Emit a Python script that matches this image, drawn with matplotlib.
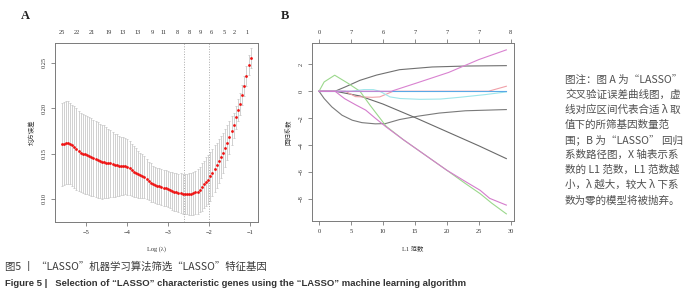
import matplotlib
matplotlib.use('Agg')
import matplotlib.pyplot as plt
import numpy as np

plt.rcParams['font.family'] = ['Liberation Serif', 'Noto Sans CJK SC']

# ---- panel A: cross-validation curve ----
n_lambda = 90
loglam = np.linspace(-5.6, -0.978, n_lambda)
cv_mse = [0.160, 0.161, 0.162, 0.162, 0.161, 0.159, 0.157, 0.155, 0.153, 0.151,
          0.150, 0.149, 0.148, 0.147, 0.146, 0.145, 0.144, 0.143, 0.142, 0.141,
          0.141, 0.140, 0.139, 0.139, 0.138, 0.137, 0.137, 0.136, 0.136, 0.136,
          0.136, 0.135, 0.134, 0.132, 0.130, 0.129, 0.127, 0.126, 0.125, 0.124,
          0.122, 0.120, 0.118, 0.116, 0.115, 0.114, 0.114, 0.113, 0.112, 0.112,
          0.111, 0.110, 0.109, 0.108, 0.107, 0.106, 0.106, 0.105, 0.105, 0.105,
          0.105, 0.105, 0.106, 0.107, 0.108, 0.110, 0.113, 0.116, 0.119, 0.121,
          0.125, 0.129, 0.133, 0.137, 0.142, 0.146, 0.151, 0.156, 0.162, 0.168,
          0.175, 0.181, 0.190, 0.198, 0.205, 0.215, 0.225, 0.236, 0.248, 0.255]
cv_sd = [0.046, 0.046, 0.046, 0.046, 0.045, 0.045, 0.045, 0.045, 0.044, 0.044,
         0.044, 0.044, 0.043, 0.043, 0.043, 0.042, 0.042, 0.042, 0.041, 0.041,
         0.040, 0.039, 0.038, 0.037, 0.036, 0.035, 0.034, 0.033, 0.032, 0.032,
         0.031, 0.031, 0.030, 0.029, 0.028, 0.027, 0.026, 0.025, 0.024, 0.023,
         0.022, 0.021, 0.021, 0.020, 0.020, 0.020, 0.020, 0.020, 0.020, 0.020,
         0.020, 0.020, 0.021, 0.021, 0.021, 0.021, 0.022, 0.022, 0.022, 0.022,
         0.023, 0.023, 0.024, 0.024, 0.025, 0.025, 0.026, 0.026, 0.027, 0.027,
         0.027, 0.026, 0.026, 0.025, 0.024, 0.023, 0.022, 0.021, 0.019, 0.018,
         0.016, 0.014, 0.013, 0.012, 0.012, 0.011, 0.011, 0.011, 0.011, 0.011]
top_pos_a = [-5.585, -5.22, -4.85, -4.46, -4.10, -3.73, -3.39, -3.10, -2.76,
             -2.49, -2.20, -1.93, -1.63, -1.37, -1.07]
top_lab_a = [25, 22, 21, 19, 13, 13, 9, 11, 8, 8, 9, 6, 5, 2, 1]
lam_min = -2.61
lam_1se = -2.0

# ---- panel B: coefficient paths (L1 norm, coefficient) ----
path_gray1 = ([0, 2.5, 4.1, 6.4, 9.0, 12.6, 17.7, 22.9, 29.3],
              [0, 0, 0.32, 0.81, 1.2, 1.6, 1.8, 1.87, 1.9])
path_gray2 = ([0, 0.8, 2.0, 3.6, 5.2, 6.7, 8.8, 10.4, 12.6, 15.5, 18.8, 22.9, 29.3],
              [0, -0.54, -1.16, -1.78, -2.15, -2.33, -2.42, -2.4, -2.1, -1.85, -1.62, -1.45, -1.36])
path_gray3 = ([0, 2.5, 6.4, 10.0, 15.0, 20.0, 25.0, 29.3],
              [0, 0, -0.35, -0.95, -1.95, -3.0, -4.05, -5.0])
path_red = ([0, 4.1, 5.7, 8.3, 9.5, 11.6, 26.5, 29.3],
            [0, 0, -0.4, -0.45, -0.42, 0, 0, 0.37])
path_green = ([0, 0.8, 2.45, 4.5, 6.4, 8.0, 10.5, 13.2, 19.95, 22.9, 25.2, 27.0, 29.3],
              [0, 0.69, 1.19, 0.6, 0.0, -1.05, -2.6, -3.6, -5.85, -6.85, -7.6, -8.3, -9.1])
path_blue = ([0, 29.3], [0, 0])
path_cyan = ([0, 5.0, 7.0, 8.5, 9.5, 11.1, 12.7, 15.8, 19.0, 22.0, 26.0, 29.3],
             [0, 0, 0.12, 0.12, 0, -0.42, -0.54, -0.6, -0.58, -0.45, -0.25, -0.05])
path_magenta1 = ([0, 11.3, 15.2, 20.3, 25.0, 29.3],
                 [0, 0, 0.6, 1.4, 2.35, 3.07])
path_magenta2 = ([0, 2.5, 4.0, 5.7, 7.3, 8.8, 10.5, 13.2, 19.95, 22.9, 25.2, 26.7, 29.3],
                 [0, 0, -0.55, -1.0, -1.4, -2.0, -2.65, -3.6, -5.85, -6.7, -7.35, -7.95, -8.45])
top_pos_b = [0, 5, 10, 15, 20, 25, 30]
top_lab_b = [0, 7, 6, 7, 7, 7, 8]

note_lines = ['图注：图 A 为“LASSO”',
              '交叉验证误差曲线图，虚',
              '线对应区间代表合适 λ 取',
              '值下的所筛基因数量范',
              '围；B 为“LASSO” 回归',
              '系数路径图，X 轴表示系',
              '数的 L1 范数，L1 范数越',
              '小，λ 越大，较大 λ 下系',
              '数为零的模型将被抛弃。']

W, H = 700, 295
fig = plt.figure(figsize=(7, 2.95), dpi=100)
fig.patch.set_facecolor('white')

def box(l, t, r, b):
    return [l / W, 1 - b / H, (r - l) / W, (b - t) / H]

spine_col = '#7a7a7a'
tick_fs = 4.6

def style_axes(ax):
    for s in ax.spines.values():
        s.set_color(spine_col)
        s.set_linewidth(0.7)
    ax.tick_params(axis='both', colors=spine_col, labelcolor='#333333',
                   labelsize=tick_fs, length=3, width=0.6, pad=3)
    for lab in ax.get_yticklabels():
        lab.set_rotation(90)
        lab.set_va('center')

# panel A
axA = fig.add_axes(box(55, 43, 258, 222))
axA.errorbar(loglam, cv_mse, yerr=cv_sd, fmt='none', ecolor='#c9c9c9',
             elinewidth=0.6, capsize=1.0, capthick=0.6, zorder=1)
axA.plot(loglam, cv_mse, 'o', color='#ee1111', ms=2.0, mew=0, zorder=3)
axA.axvline(lam_min, color='#aaaaaa', ls=':', lw=0.7)
axA.axvline(lam_1se, color='#aaaaaa', ls=':', lw=0.7)
axA.set_xlim(-5.76, -0.8)
axA.set_ylim(0.0744, 0.272)
axA.set_xticks([-5, -4, -3, -2, -1])
axA.set_xticklabels(['−5', '−4', '−3', '−2', '−1'])
axA.set_yticks([0.10, 0.15, 0.20, 0.25])
axA.set_yticklabels(['0.10', '0.15', '0.20', '0.25'])
style_axes(axA)
axA.set_xlabel('Log (λ)', fontsize=4.6, color='#333333', labelpad=8)
axA.set_ylabel('均方误差', fontsize=4.6, color='#333333', labelpad=5)
topA = axA.twiny()
topA.set_xlim(axA.get_xlim())
topA.set_xticks(top_pos_a)
topA.set_xticklabels([str(v) for v in top_lab_a])
topA.tick_params(axis='x', length=0, pad=6, labelsize=tick_fs, labelcolor='#333333')
for s in topA.spines.values():
    s.set_visible(False)

# panel B
axB = fig.add_axes(box(312, 43, 514, 221))
paths = [(path_gray1, '#707070'), (path_gray2, '#7a7a7a'), (path_gray3, '#6a6a6a'),
         (path_red, '#f0a0a8'), (path_green, '#9bd88c'), (path_cyan, '#9ee6ea'),
         (path_blue, '#5aa8e6'), (path_magenta1, '#d982d0'), (path_magenta2, '#d47ccc')]
for (xs, ys), col in paths:
    axB.plot(xs, ys, color=col, lw=0.8)
axB.set_xlim(-1.1, 30.5)
axB.set_ylim(-9.63, 3.58)
axB.set_xticks([0, 5, 10, 15, 20, 25, 30])
axB.set_yticks([2, 0, -2, -4, -6, -8])
axB.set_yticklabels(['2', '0', '−2', '−4', '−6', '−8'])
style_axes(axB)
axB.set_xlabel('L1 范数', fontsize=4.6, color='#333333', labelpad=8)
axB.set_ylabel('回归系数', fontsize=4.6, color='#333333', labelpad=5)
topB = axB.twiny()
topB.set_xlim(axB.get_xlim())
topB.set_xticks(top_pos_b)
topB.set_xticklabels([str(v) for v in top_lab_b])
topB.tick_params(axis='x', length=3, width=0.6, colors=spine_col, pad=3,
                 labelsize=tick_fs, labelcolor='#333333')
for s in topB.spines.values():
    s.set_visible(False)

fig.text(25 / W, 1 - 16 / H, 'A', fontsize=9, fontweight='bold',
         ha='center', va='center', color='#222222')
fig.text(285 / W, 1 - 16 / H, 'B', fontsize=9, fontweight='bold',
         ha='center', va='center', color='#222222')

cjk = ['Noto Sans CJK SC', 'DejaVu Sans']
for i, line in enumerate(note_lines):
    fig.text(565 / W, 1 - (80 + 15 * i) / H, line, fontsize=7.6, family=cjk,
             color='#4f4f4f', ha='left', va='center')

fig.text(5 / W, 1 - 267 / H, '图5 丨 “LASSO”机器学习算法筛选“LASSO”特征基因',
         fontsize=7.5, family=cjk, color='#3a3a3a', ha='left', va='center')
fig.text(5 / W, 1 - 283 / H,
         'Figure 5 |   Selection of “LASSO” characteristic genes using the “LASSO” machine learning algorithm',
         fontsize=6.8, family=['Liberation Sans', 'DejaVu Sans'], fontweight='bold',
         color='#333333', ha='left', va='center')

fig.savefig('out.png', dpi=100)
